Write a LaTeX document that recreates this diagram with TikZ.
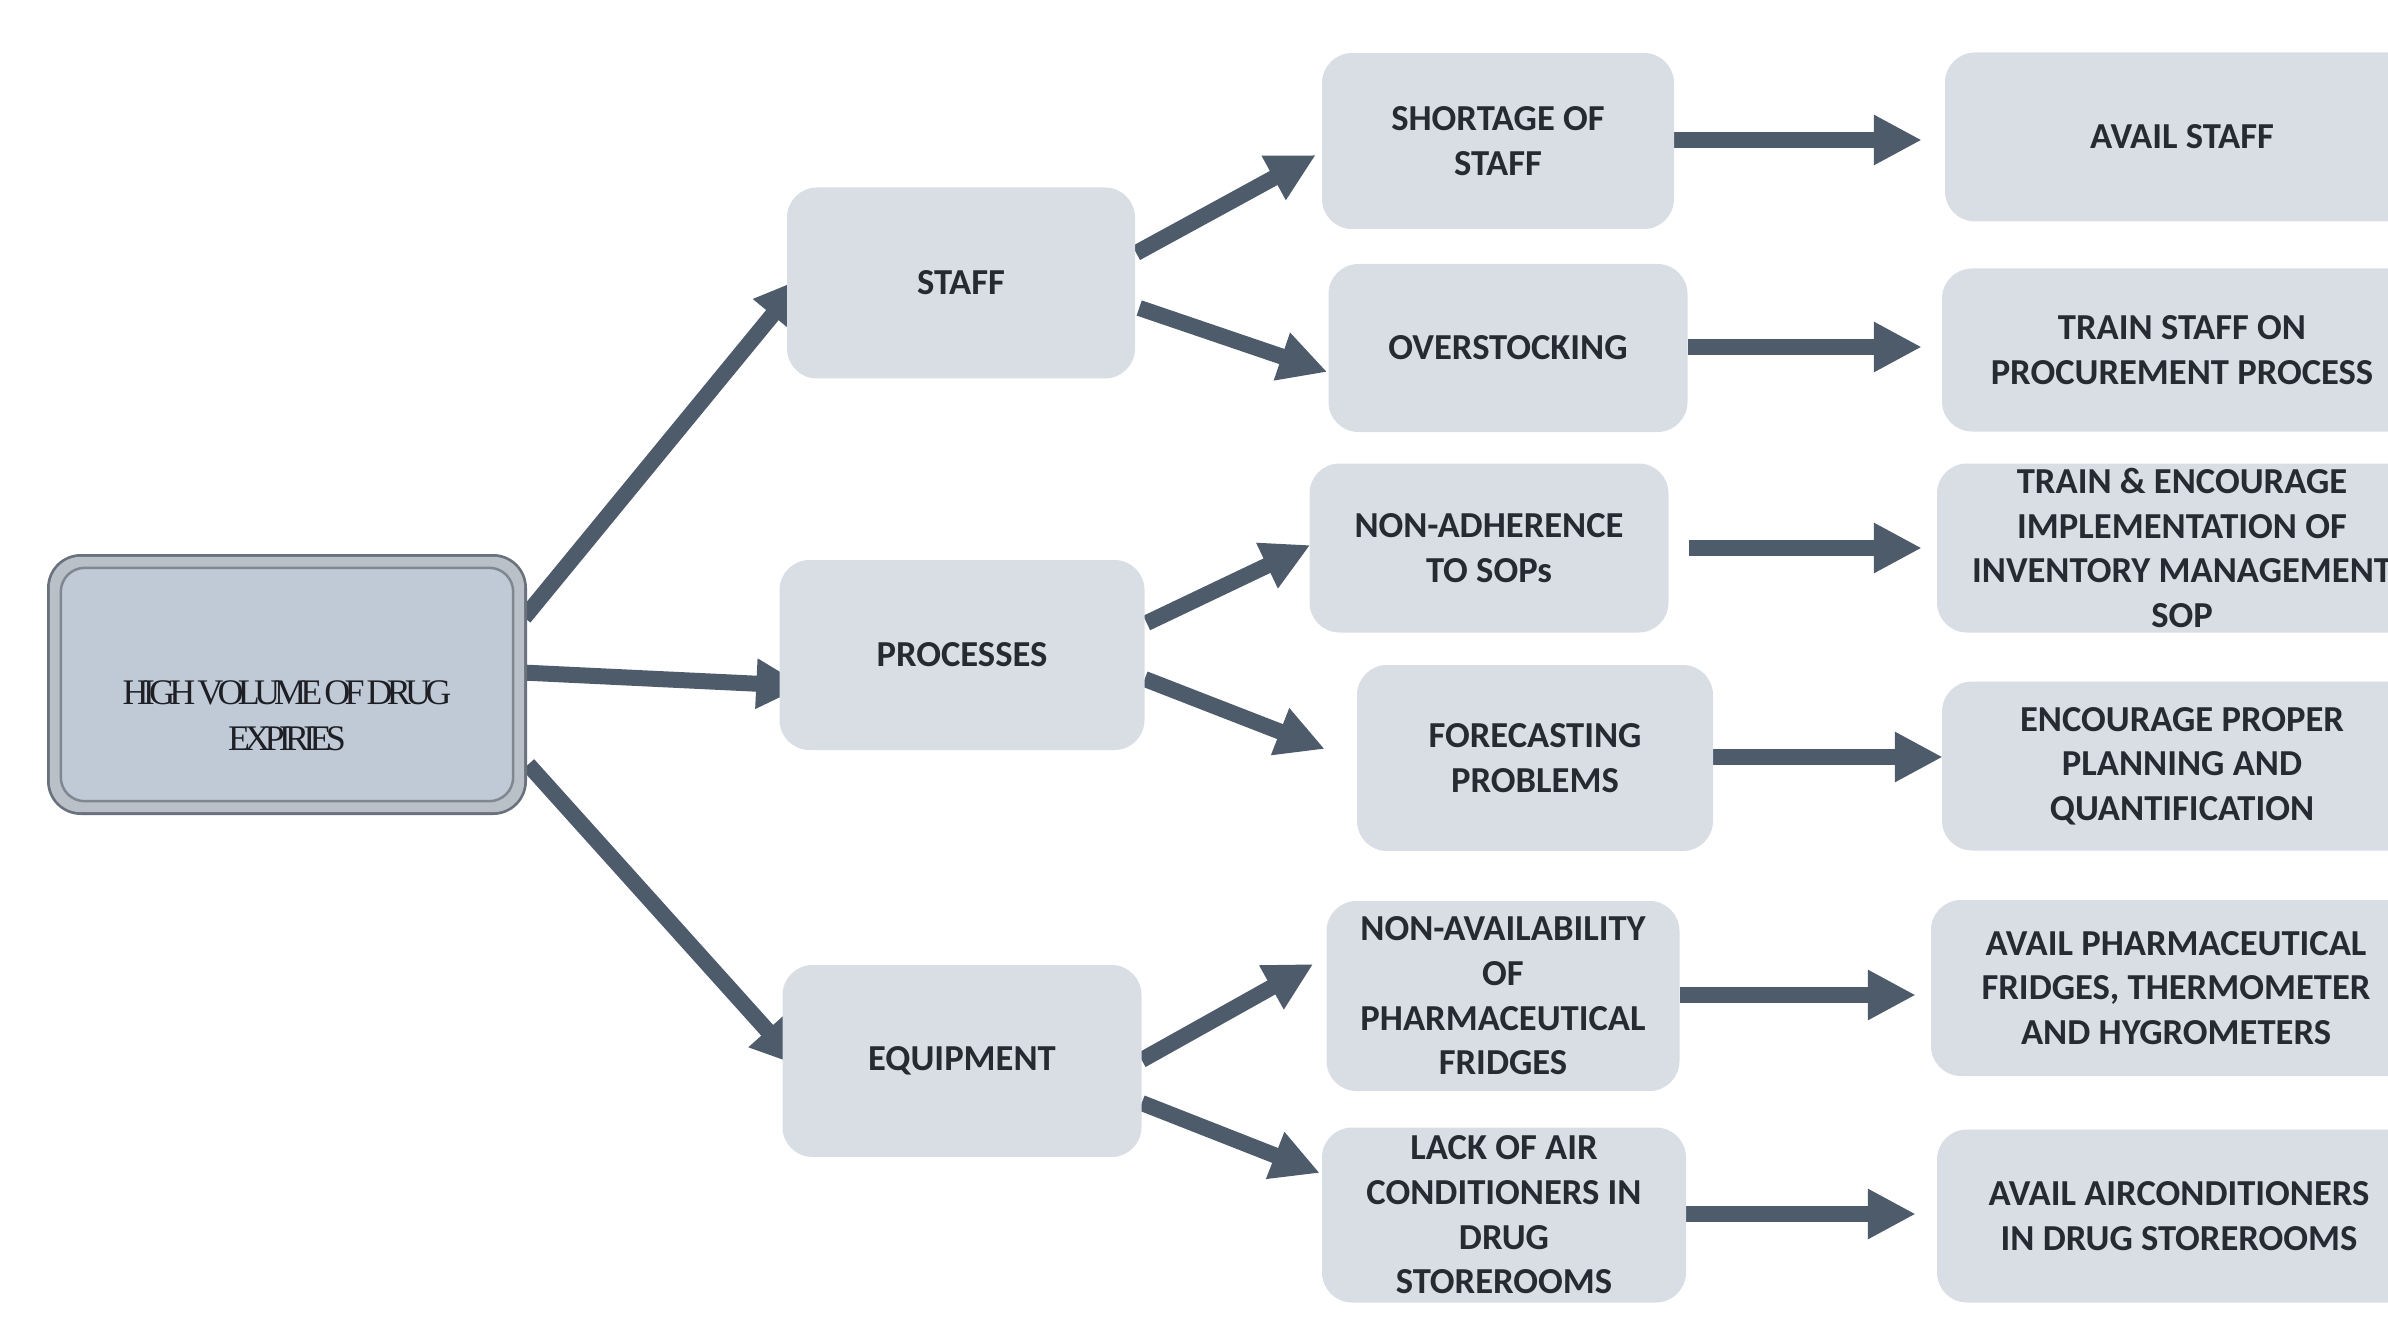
\documentclass[tikz,border=0pt]{standalone}
\usepackage{fontspec}
\setmainfont{Carlito}
\newfontfamily\titlefont[LetterSpace=-16,WordSpace=0.6]{Liberation Serif}
\usetikzlibrary{arrows.meta,calc}
\pgfdeclarelayer{bg}
\pgfsetlayers{bg,main}
\definecolor{arrowc}{HTML}{4D5B6B}
\definecolor{boxc}{HTML}{D9DEE5}
\definecolor{txtc}{HTML}{262A33}
\definecolor{titlec}{HTML}{1E1F24}
\definecolor{mainface}{HTML}{C0CAD6}
\definecolor{mainrim}{HTML}{69717C}
\definecolor{mainring}{HTML}{B9C0C8}
\definecolor{maininner}{HTML}{7F8791}
\begin{document}
\begin{tikzpicture}[x=1pt,y=-1pt,
  box/.style={rectangle, rounded corners=30pt, fill=boxc, inner sep=0pt, align=center, text=txtc,
    font=\fontsize{36.6}{44.6}\selectfont\bfseries},
  mainbox/.style={rectangle, rounded corners=34pt, fill=mainrim, inner sep=0pt},
  ringfill/.style={fill=mainring, rounded corners=31pt},
  facefill/.style={fill=mainface, draw=maininner, line width=2.5pt, rounded corners=24pt},
  bigarrow/.style={draw=arrowc, line width=16pt, -{Triangle[length=48pt,width=47pt]}},
]
\useasboundingbox (0,0) rectangle (2388,1321);
\clip (0,0) rectangle (2388,1321);

% main box
\node[mainbox, minimum width=480pt, minimum height=261pt] (main) at (287,684.5) {};
\fill[ringfill] ($(main.north west)+(3,3)$) rectangle ($(main.south east)+(-3,-3)$);
\filldraw[facefill] ($(main.north west)+(14,14)$) rectangle ($(main.south east)+(-14,-14)$);
\node[font=\titlefont\fontsize{36}{46}\selectfont, text=titlec, align=center] (maintext)
  at ($(main.center)+(0,31)$) {HIGH VOLUME OF DRUG\\EXPIRIES};

% level 1
\node[box, minimum width=348pt, minimum height=191pt] (staff) at (961,283) {STAFF};
\node[box, minimum width=365pt, minimum height=190pt] (proc) at (962,655) {PROCESSES};
\node[box, minimum width=359pt, minimum height=192pt] (equip) at (962,1061) {EQUIPMENT};

% level 2
\node[box, minimum width=352pt, minimum height=176pt] (short) at (1498,141) {SHORTAGE OF\\STAFF};
\node[box, minimum width=359pt, minimum height=168pt] (over) at (1508,348) {OVERSTOCKING};
\node[box, minimum width=359pt, minimum height=169pt] (nonadh) at (1489,548) {NON-ADHERENCE\\TO SOPs};
\node[box, minimum width=356pt, minimum height=186pt] (fore) at (1535,758) {FORECASTING\\PROBLEMS};
\node[box, minimum width=353pt, minimum height=190pt] (nonav) at (1503,996) {NON-AVAILABILITY\\OF\\PHARMACEUTICAL\\FRIDGES};
\node[box, minimum width=364pt, minimum height=175pt] (lack) at (1504,1215) {LACK OF AIR\\CONDITIONERS IN\\DRUG\\STOREROOMS};

% level 3
\node[box, minimum width=474pt, minimum height=169pt] (r1) at (2182,137) {AVAIL STAFF};
\node[box, minimum width=480pt, minimum height=163pt] (r2) at (2182,350) {TRAIN STAFF ON\\PROCUREMENT PROCESS};
\node[box, minimum width=490pt, minimum height=169pt] (r3) at (2182,548) {TRAIN \& ENCOURAGE\\IMPLEMENTATION OF\\INVENTORY MANAGEMENT\\SOP};
\node[box, minimum width=480pt, minimum height=169pt] (r4) at (2182,766) {ENCOURAGE PROPER\\PLANNING AND\\QUANTIFICATION};
\node[box, minimum width=490pt, minimum height=176pt] (r5) at (2176,988) {AVAIL PHARMACEUTICAL\\FRIDGES, THERMOMETER\\AND HYGROMETERS};
\node[box, minimum width=484pt, minimum height=173pt] (r6) at (2179,1216) {AVAIL AIRCONDITIONERS\\IN DRUG STOREROOMS};

\begin{pgfonlayer}{bg}
\draw[bigarrow] ($(main.east)+(-3,-67)$) -- ($(staff.west)+(16,-5)$);
\draw[bigarrow] ($(main.east)+(-5,-12)$) -- ($(proc.west)+(25,31)$);
\draw[bigarrow] ($(main.east)+(1,80)$) -- ($(equip.west)+(17,5)$);

\draw[bigarrow] ($(staff.east)+(1,-30)$) -- ($(short.west)+(-6,14)$);
\draw[bigarrow] ($(staff.east)+(4,25)$) -- ($(over.west)+(-1,24)$);
\draw[bigarrow] ($(proc.east)+(2,-32)$) -- ($(nonadh.west)+(1,-3)$);
\draw[bigarrow] ($(proc.east)+(0,24)$) -- ($(fore.west)+(-32,-9)$);
\draw[bigarrow] ($(equip.east)+(0,-1)$) -- ($(nonav.west)+(-13,-32)$);
\draw[bigarrow] ($(equip.east)+(0,42)$) -- ($(lack.west)+(-2,-42)$);

\draw[bigarrow] ($(short.east)+(0,-1)$) -- ($(short.east -| r1.west)+(-23,-1)$);
\draw[bigarrow] ($(over.east)+(0,-1)$) -- ($(over.east -| r2.west)+(-20,-1)$);
\draw[bigarrow] ($(nonadh.east)+(20,0)$) -- ($(nonadh.east -| r3.west)+(-15,0)$);
\draw[bigarrow] ($(fore.east)+(0,-1)$) -- ($(fore.east -| r4.west)+(1,-1)$);
\draw[bigarrow] ($(nonav.east)+(0,-1)$) -- ($(nonav.east -| r5.west)+(-15,-1)$);
\draw[bigarrow] ($(lack.east)+(0,-1)$) -- ($(lack.east -| r6.west)+(-21,-1)$);
\end{pgfonlayer}
\end{tikzpicture}
\end{document}
